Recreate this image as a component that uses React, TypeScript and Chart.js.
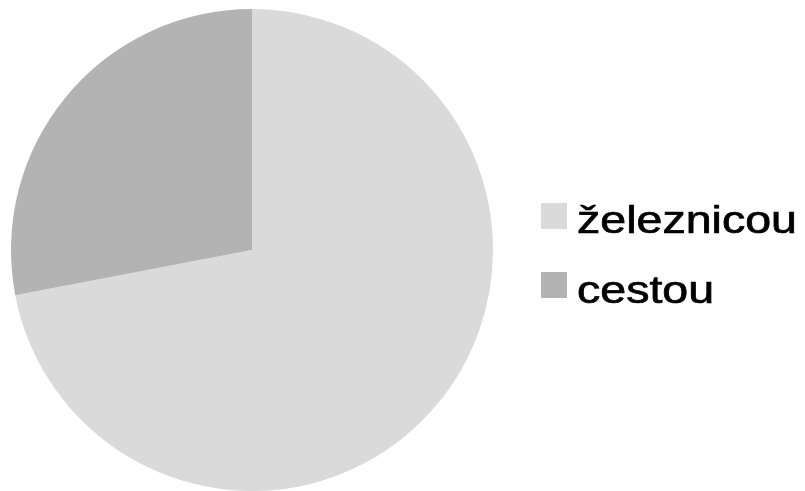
import React, { useEffect, useRef } from "react";
import { Chart, registerables } from "chart.js";

Chart.register(...registerables);

const labels = ["železnicou", "cestou"];
const values = [72, 28];
const colors = ["#dadada", "#b3b3b3"];

const legendPlugin = {
  id: "customLegend",
  afterDraw(chart: any) {
    const ctx = chart.ctx;
    const ds = chart.data.datasets[0];
    ctx.save();
    chart.data.labels.forEach((lab: string, i: number) => {
      const boxY = 203 + i * 69;
      ctx.fillStyle = ds.backgroundColor[i];
      ctx.fillRect(541, boxY, 26, 26);
      ctx.save();
      ctx.translate(577, 233 + i * 70);
      ctx.scale(1.225, 1);
      ctx.fillStyle = "#000000";
      ctx.strokeStyle = "#000000";
      ctx.lineWidth = 0.7;
      ctx.font = "38px 'Liberation Sans', Arial, sans-serif";
      ctx.textBaseline = "alphabetic";
      ctx.textAlign = "left";
      ctx.fillText(lab, 0, 0);
      ctx.strokeText(lab, 0, 0);
      ctx.restore();
    });
    ctx.restore();
  },
};

export default function App() {
  const ref = useRef<HTMLCanvasElement>(null);
  useEffect(() => {
    document.body.style.margin = "0";
    document.body.style.background = "#ffffff";
    const chart = new Chart(ref.current!, {
      type: "pie",
      data: {
        labels,
        datasets: [
          {
            data: values,
            backgroundColor: colors,
            borderWidth: 0,
          },
        ],
      },
      options: {
        animation: false,
        responsive: false,
        maintainAspectRatio: false,
        layout: { padding: { left: 11, top: 9, right: 312, bottom: 0 } },
        plugins: {
          legend: { display: false },
          tooltip: { enabled: false },
        },
      },
      plugins: [legendPlugin],
    });
    return () => chart.destroy();
  }, []);
  return (
    <div style={{ width: 805, height: 491, background: "#fff" }}>
      <canvas ref={ref} width={805} height={491} style={{ display: "block" }} />
    </div>
  );
}
